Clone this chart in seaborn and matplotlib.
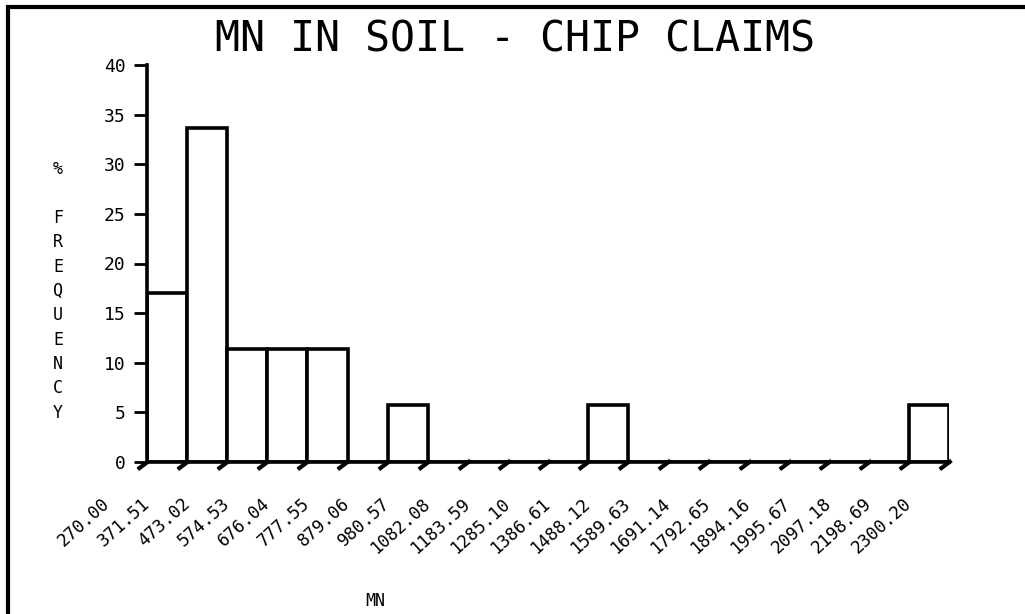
import matplotlib
matplotlib.use("Agg")
import matplotlib.pyplot as plt
import matplotlib.patches as mpatches
import numpy as np
import pandas as pd
import seaborn as sns
from matplotlib.markers import MarkerStyle
from matplotlib.path import Path
from matplotlib.transforms import ScaledTranslation

sns.set_style("white")
plt.rcParams['font.family'] = ['DejaVu Sans Mono', 'DejaVu Sans']
plt.rcParams.update({"text.color": "black", "axes.labelcolor": "black",
                     "xtick.color": "black", "ytick.color": "black"})

# bin edges of the Mn histogram (ppm) and % frequency per bin
bin_edges = [270.00, 371.51, 473.02, 574.53, 676.04, 777.55, 879.06, 980.57,
             1082.08, 1183.59, 1285.10, 1386.61, 1488.12, 1589.63, 1691.14,
             1792.65, 1894.16, 1995.67, 2097.18, 2198.69, 2300.20]
pct_freq = [17.0, 33.7, 11.4, 11.4, 11.4, 0.0, 5.7, 0.0, 0.0, 0.0,
            0.0, 5.7, 0.0, 0.0, 0.0, 0.0, 0.0, 0.0, 0.0, 5.7]
tick_labels = [f"{e:.2f}" for e in bin_edges]

df = pd.DataFrame({
    "mn": [(a + b) / 2 for a, b in zip(bin_edges[:-1], bin_edges[1:])],
    "pct": pct_freq,
})

W, H = 1025, 614
fig = plt.figure(figsize=(W / 100, H / 100), dpi=100)
ax = fig.add_axes([147 / W, 1 - 462 / H, (949 - 147) / W, (462 - 65) / H])

sns.histplot(data=df, x="mn", weights="pct", bins=bin_edges, stat="count",
             color="white", edgecolor="black", linewidth=2.6, alpha=1, ax=ax)

ax.set_xlim(bin_edges[0], bin_edges[-1])
ax.set_ylim(0, 40)
ax.set_yticks(np.arange(0, 41, 5))
ax.tick_params(axis="y", direction="out", length=9.5, width=2, pad=6,
               labelsize=13, left=True)

# x ticks: slanted plotter marks, labels on a diagonal
ax.set_xticks(bin_edges)
ax.set_xticklabels(tick_labels, rotation=42, ha="right", va="center",
                   rotation_mode="anchor", fontsize=12.5)
ax.tick_params(axis="x", length=14, width=3, pad=14, bottom=True)
slant = MarkerStyle(Path([(0.2, 0.2), (-1.0, -0.7)]))
for t in ax.xaxis.get_major_ticks():
    t.tick1line.set_marker(slant)
shift = ScaledTranslation(-0.40, 0.0, fig.dpi_scale_trans)
for lbl in ax.get_xticklabels():
    lbl.set_transform(lbl.get_transform() + shift)

for s in ["top", "right"]:
    ax.spines[s].set_visible(False)
for s in ["left", "bottom"]:
    ax.spines[s].set_linewidth(2.6)
    ax.spines[s].set_color("black")

ax.set_ylabel("%\n\nF\nR\nE\nQ\nU\nE\nN\nC\nY", rotation=0, fontsize=12,
              linespacing=1.45, va="center", ha="center")
ax.yaxis.set_label_coords((58 - 147) / 802, (462 - 291) / 397)
ax.set_xlabel("MN", fontsize=12, va="center")
ax.xaxis.set_label_coords((375 - 147) / 802, (462 - 601) / 397)

fig.text(515 / W, 1 - 40 / H, "MN IN SOIL - CHIP CLAIMS", fontsize=30,
         ha="center", va="center", color="black")

fig.patches.append(mpatches.Rectangle((8 / W, -0.1), 2, 1.1 - 7 / H,
                                      transform=fig.transFigure, fill=False,
                                      edgecolor="black", linewidth=3))

plt.savefig("out.png", dpi=100)
